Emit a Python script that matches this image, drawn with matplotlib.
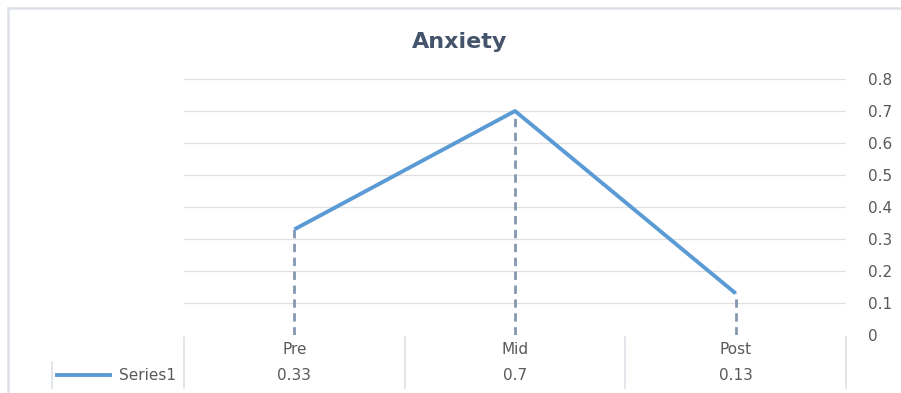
import matplotlib
matplotlib.use("Agg")
import matplotlib.pyplot as plt
from matplotlib.lines import Line2D
from matplotlib.transforms import blended_transform_factory

# data
categories = ["Pre", "Mid", "Post"]
series_name = "Series1"
values = [0.33, 0.7, 0.13]
y_ticks = [0, 0.1, 0.2, 0.3, 0.4, 0.5, 0.6, 0.7, 0.8]
y_tick_labels = ["0", "0.1", "0.2", "0.3", "0.4", "0.5", "0.6", "0.7", "0.8"]

W, H = 901, 393
LINE_C = "#5b9bd5"
DROP_C = "#8497b0"
GRID_C = "#e0e0e0"
TXT_C = "#595959"
TABLE_C = "#dde1e7"

fig = plt.figure(figsize=(W / 100, H / 100), dpi=100)
fig.patch.set_facecolor("white")


def fx(px):
    return px / W


def fy(py):
    return (H - py) / H


# chart area frame (top and left edge visible)
fig.add_artist(Line2D([fx(8), 1.0], [fy(8), fy(8)], color=TABLE_C, lw=1.8,
                      transform=fig.transFigure))
fig.add_artist(Line2D([fx(8), fx(8)], [fy(8), 0.0], color=TABLE_C, lw=1.8,
                      transform=fig.transFigure))

# plot area
ax = fig.add_axes([fx(184), fy(335), (846 - 184) / W, (335 - 79) / H])
x = list(range(len(categories)))
ax.set_xlim(-0.5, len(categories) - 0.5)
ax.set_ylim(0, 0.8)

for t in y_ticks[1:]:
    ax.axhline(t, color=GRID_C, lw=0.9, zorder=1)

# drop lines
ax.vlines(x, 0, values, colors=DROP_C, linestyles=(0, (3, 2)), lw=2.0, zorder=2)
ax.plot(x, values, color=LINE_C, lw=2.8, solid_capstyle="butt", zorder=3)

for s in ax.spines.values():
    s.set_visible(False)
ax.set_xticks([])
ax.yaxis.tick_right()
ax.set_yticks(y_ticks)
ax.set_yticklabels(y_tick_labels)
ax.tick_params(axis="y", length=0, pad=16, labelsize=11, labelcolor=TXT_C)
for lab in ax.get_yticklabels():
    lab.set_horizontalalignment("left")

fig.text(fx(460), fy(42), "Anxiety", ha="center", va="center",
         fontsize=16, fontweight="bold", color="#44546a", family="DejaVu Sans")

# data table under the axis
tr = blended_transform_factory(ax.transData, fig.transFigure)
for xb in [-0.5, 0.5, 1.5, 2.5]:
    ax.add_line(Line2D([xb, xb], [fy(337), fy(388)], color=TABLE_C, lw=1.2,
                       transform=tr, clip_on=False))
for xi, cat, v in zip(x, categories, values):
    ax.text(xi, fy(349), cat, transform=tr, ha="center", va="center",
            fontsize=11, color=TXT_C)
    ax.text(xi, fy(375), f"{v:g}", transform=tr, ha="center", va="center",
            fontsize=11, color=TXT_C)

# legend key cell
fig.add_artist(Line2D([fx(52), fx(52)], [fy(362), fy(388)], color=TABLE_C, lw=1.2,
                      transform=fig.transFigure))
fig.add_artist(Line2D([fx(57), fx(110)], [fy(375), fy(375)], color=LINE_C, lw=2.8,
                      transform=fig.transFigure))
fig.text(fx(176), fy(375), series_name, ha="right", va="center",
         fontsize=11, color=TXT_C)

fig.savefig("out.png", dpi=100, facecolor="white")
